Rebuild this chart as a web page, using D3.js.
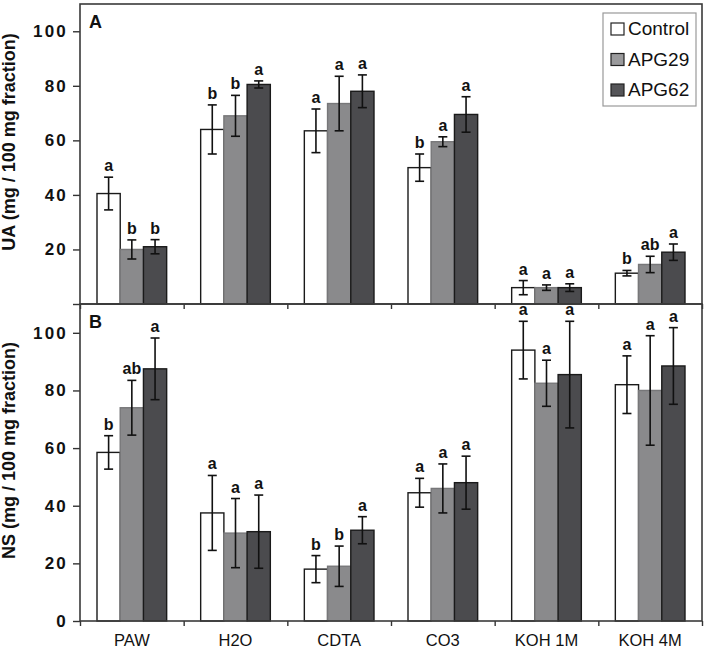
<!DOCTYPE html>
<html>
<head>
<meta charset="utf-8">
<script src="https://cdn.jsdelivr.net/npm/d3@7"></script>
<style>
  body { margin: 0; background: #fff; }
  text { font-family: "Liberation Sans", Arial, sans-serif; }
</style>
</head>
<body>
<div id="chart-area"></div>
<script>
var categories = ["PAW", "H2O", "CDTA", "CO3", "KOH 1M", "KOH 4M"];
var series = ["Control", "APG29", "APG62"];
var yTicks = [0, 20, 40, 60, 80, 100];

// panel A : UA
var uaControl    = [40.5, 64, 63.5, 50, 6, 11.3];
var uaControlErr = [6, 9, 8, 5, 2.6, 1];
var uaApg29      = [20, 69, 73.5, 59.5, 6, 14.5];
var uaApg29Err   = [3.5, 7.5, 10, 1.8, 1, 3];
var uaApg62      = [21, 80.5, 78, 69.5, 6, 19];
var uaApg62Err   = [2.6, 1.3, 6, 6.5, 1.4, 3];
var uaLetters    = [["a","b","b"], ["b","b","a"], ["a","a","a"], ["b","a","a"], ["a","a","a"], ["b","ab","a"]];

// panel B : NS
var nsControl    = [58.5, 37.5, 18, 44.5, 94, 82];
var nsControlErr = [5.8, 13, 4.7, 5, 10, 10];
var nsApg29      = [74, 30.5, 19, 46, 82.5, 80];
var nsApg29Err   = [9.5, 12, 7, 8.5, 8, 19];
var nsApg62      = [87.5, 31, 31.5, 48, 85.5, 88.5];
var nsApg62Err   = [10.7, 12.7, 4.7, 9.2, 18.5, 13.3];
var nsLetters    = [["b","ab","a"], ["a","a","a"], ["b","b","a"], ["a","a","a"], ["a","a","a"], ["a","a","a"]];

var width = 705, height = 648;
var left = 80, right = 702;

var fill = { "Control": "#ffffff", "APG29": "#8a8a8c", "APG62": "#4b4b4e" };
var stroke = { "Control": "#1a1a1a", "APG29": "#777779", "APG62": "#1a1a1a" };
var legendFill = { "Control": "#ffffff", "APG29": "#9a9a9c", "APG62": "#555558" };

var svg = d3.select("#chart-area").append("svg")
    .attr("width", width)
    .attr("height", height);

var x = d3.scaleBand().domain(categories).range([left, right]).padding(0);
var xs = d3.scaleBand().domain(series).range([17, x.bandwidth() - 17]).padding(0);

function rows(vals, errs, letters) {
    var out = [];
    categories.forEach(function(c, i) {
        series.forEach(function(s, j) {
            out.push({ cat: c, s: s, v: vals[j][i], e: errs[j][i], l: letters[i][j] });
        });
    });
    return out;
}

var panels = [
    { name: "A", top: 4, bottom: 304, title: "UA (mg / 100 mg fraction)", zeroLabel: false,
      data: rows([uaControl, uaApg29, uaApg62], [uaControlErr, uaApg29Err, uaApg62Err], uaLetters) },
    { name: "B", top: 304, bottom: 621, title: "NS (mg / 100 mg fraction)", zeroLabel: true,
      data: rows([nsControl, nsApg29, nsApg62], [nsControlErr, nsApg29Err, nsApg62Err], nsLetters) }
];

panels.forEach(function(p) {
    var y = d3.scaleLinear().domain([0, 110]).range([p.bottom, p.top]);
    var g = svg.append("g");

    // bars
    g.selectAll(".bar")
        .data(p.data)
        .enter().append("rect")
        .attr("class", "bar")
        .attr("x", function(d) { return x(d.cat) + xs(d.s); })
        .attr("y", function(d) { return y(d.v); })
        .attr("width", xs.bandwidth())
        .attr("height", function(d) { return y(0) - y(d.v); })
        .attr("fill", function(d) { return fill[d.s]; })
        .attr("stroke", function(d) { return stroke[d.s]; })
        .attr("stroke-width", 1.4);

    // error bars
    var eb = g.selectAll(".err")
        .data(p.data)
        .enter().append("g")
        .attr("class", "err")
        .attr("transform", function(d) {
            return "translate(" + (x(d.cat) + xs(d.s) + xs.bandwidth() / 2) + ",0)";
        })
        .attr("stroke", "#111")
        .attr("stroke-width", 1.6);
    eb.append("line")
        .attr("y1", function(d) { return y(d.v + d.e); })
        .attr("y2", function(d) { return y(d.v - d.e); });
    eb.append("line").attr("x1", -4.5).attr("x2", 4.5)
        .attr("y1", function(d) { return y(d.v + d.e); })
        .attr("y2", function(d) { return y(d.v + d.e); });
    eb.append("line").attr("x1", -4.5).attr("x2", 4.5)
        .attr("y1", function(d) { return y(d.v - d.e); })
        .attr("y2", function(d) { return y(d.v - d.e); });

    // significance letters
    g.selectAll(".sig")
        .data(p.data)
        .enter().append("text")
        .attr("class", "sig")
        .attr("x", function(d) { return x(d.cat) + xs(d.s) + xs.bandwidth() / 2; })
        .attr("y", function(d) { return y(d.v + d.e) - 6; })
        .attr("text-anchor", "middle")
        .attr("font-size", 16)
        .attr("font-weight", "bold")
        .attr("fill", "#111")
        .text(function(d) { return d.l; });

    // y axis
    var yAxis = g.append("g")
        .attr("transform", "translate(" + left + ",0)")
        .call(d3.axisLeft(y).tickValues(yTicks).tickSize(7).tickPadding(5)
            .tickFormat(function(v) { return (v === 0 && !p.zeroLabel) ? "" : v; }));
    yAxis.select(".domain").remove();
    yAxis.selectAll("line").attr("stroke", "#333").attr("stroke-width", 1.4);
    yAxis.selectAll("text")
        .attr("font-family", "Liberation Sans, Arial, sans-serif")
        .attr("font-size", 17)
        .attr("font-weight", "bold")
        .attr("letter-spacing", 2.2)
        .attr("fill", "#111");

    // x ticks at category boundaries
    var xb = d3.scaleLinear().domain([0, categories.length]).range([left, right]);
    var xAxis = g.append("g")
        .attr("transform", "translate(0," + p.bottom + ")")
        .call(d3.axisBottom(xb).ticks(categories.length).tickSize(5)
            .tickFormat(function() { return ""; }));
    xAxis.select(".domain").remove();
    xAxis.selectAll("line").attr("stroke", "#333").attr("stroke-width", 1.4);

    // frame
    g.append("rect")
        .attr("x", left).attr("y", p.top)
        .attr("width", right - left).attr("height", p.bottom - p.top)
        .attr("fill", "none").attr("stroke", "#3a3a3a").attr("stroke-width", 1.6);

    g.append("text")
        .attr("x", 89).attr("y", p.top + 24)
        .attr("font-size", 18).attr("font-weight", "bold").attr("fill", "#111")
        .text(p.name);

    g.append("text")
        .attr("transform", "translate(15," + ((p.top + p.bottom) / 2 - 12) + ") rotate(-90)")
        .attr("text-anchor", "middle")
        .attr("font-size", 18).attr("font-weight", "bold").attr("fill", "#111")
        .text(p.title);
});

// category labels
svg.selectAll(".cat")
    .data(categories)
    .enter().append("text")
    .attr("class", "cat")
    .attr("x", function(d) { return x(d) + x.bandwidth() / 2; })
    .attr("y", 646)
    .attr("text-anchor", "middle")
    .attr("font-size", 16.5)
    .attr("fill", "#111")
    .text(function(d) { return d; });

// legend
var legend = svg.append("g").attr("transform", "translate(603,13)");
legend.append("rect")
    .attr("width", 93).attr("height", 93)
    .attr("fill", "#fff").attr("stroke", "#999").attr("stroke-width", 1.2);
series.forEach(function(s, i) {
    var row = legend.append("g").attr("transform", "translate(8," + (10 + i * 30.5) + ")");
    row.append("rect")
        .attr("width", 13).attr("height", 12)
        .attr("fill", legendFill[s]).attr("stroke", "#222").attr("stroke-width", 1.2);
    row.append("text")
        .attr("x", 17).attr("y", 12)
        .attr("font-size", 19).attr("fill", "#111")
        .text(s);
});
</script>
</body>
</html>
